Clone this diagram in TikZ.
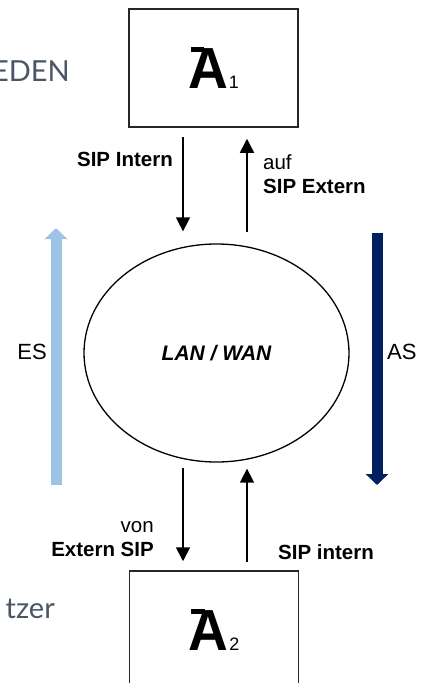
\documentclass[tikz,border=0pt]{standalone}
\usepackage{fontspec}
\usepackage{graphicx}
\setmainfont{Liberation Sans}
\newfontfamily\bgfont{Lato}
\usetikzlibrary{shapes.geometric, arrows.meta, positioning, calc}
\definecolor{esblue}{HTML}{9DC3E6}
\definecolor{asnavy}{HTML}{002060}
\definecolor{bgtext}{HTML}{4A5568}

% Anschluss-Symbol: A mit Querstrich plus Index
\newcommand{\portA}[1]{{\fontsize{58}{58}\selectfont\bfseries
  \scalebox{0.95}[1]{\rlap{\kern0.05em\rule[0.63em]{0.24em}{0.086em}}A}}%
  \kern1pt{\fontsize{18}{18}\selectfont #1}}

\begin{document}
\begin{tikzpicture}[
  x=1pt, y=-1pt,
  box/.style={rectangle, draw=black!85, line width=1.5pt, minimum width=169pt,
    minimum height=118pt, inner sep=0pt},
  net/.style={ellipse, draw=black, line width=1.3pt, minimum width=265pt,
    minimum height=218pt, inner sep=0pt, font=\fontsize{21}{24}\selectfont\bfseries\itshape},
  lbl/.style={inner sep=0pt, font=\fontsize{20.5}{24}\selectfont},
  bg/.style={inner sep=0pt, text=bgtext, font=\fontsize{29}{30}\selectfont\bgfont},
  flow/.style={-{Triangle[length=14pt,width=14pt]}, line width=1.6pt},
  side/.style={line width=11pt, -{Triangle[length=11pt,width=22pt]}}
]
\useasboundingbox (0,0) rectangle (425,683);

% Hintergrundtext
\node (bgA) [bg, anchor=base east] at (70,81) {EDEN};
\node (bgB) [bg, anchor=base east] at (55,618) {tzer};

% Anschluesse und Netz
\node (a1) [box] at (213.5,68) {\portA{1}};
\node (net) [net] at (216.5,353) {LAN / WAN};
\node (a2) [box] at (214,630) {\portA{2}};

% Spuren fuer die Pfeile
\coordinate (laneL) at (183,0);
\coordinate (laneR) at (247,0);

% Pfeile oben
\draw [flow, shorten <=9pt, shorten >=12pt] (a1.south -| laneL) -- (net.north -| laneL);
\draw [flow, shorten <=11pt, shorten >=11pt] (net.north -| laneR) -- (a1.south -| laneR);

% Pfeile unten
\draw [flow, shorten <=5pt, shorten >=9pt] (net.south -| laneL) -- (a2.north -| laneL);
\draw [flow, shorten <=8pt, shorten >=6pt] (a2.north -| laneR) -- (net.south -| laneR);

% Beschriftungen
\node (sipIn) [lbl, anchor=base east, font=\fontsize{20.5}{24}\selectfont\bfseries] at (173,166) {SIP Intern};
\node (sipExt) [lbl, anchor=north west, align=left] at (263,154) {auf\\\textbf{SIP Extern}};
\node (extSip) [lbl, anchor=north east, align=right] at (154,521) {von\\\textbf{Extern SIP}};
\node (sipint) [lbl, anchor=base west, font=\fontsize{20.5}{24}\selectfont\bfseries] at (278,559) {SIP intern};

% ES / AS
\coordinate (esBot) at (56,485);
\coordinate (esTop) at (56,228);
\coordinate (asTop) at (377,233);
\coordinate (asBot) at (377,485);
\draw [side, esblue] (esBot) -- (esTop);
\draw [side, asnavy] (asTop) -- (asBot);
\node (es) [lbl, font=\fontsize{22}{24}\selectfont, anchor=base east] at (47,359) {ES};
\node (as) [lbl, font=\fontsize{22}{24}\selectfont, anchor=base west] at (387,359) {AS};

\end{tikzpicture}
\end{document}
